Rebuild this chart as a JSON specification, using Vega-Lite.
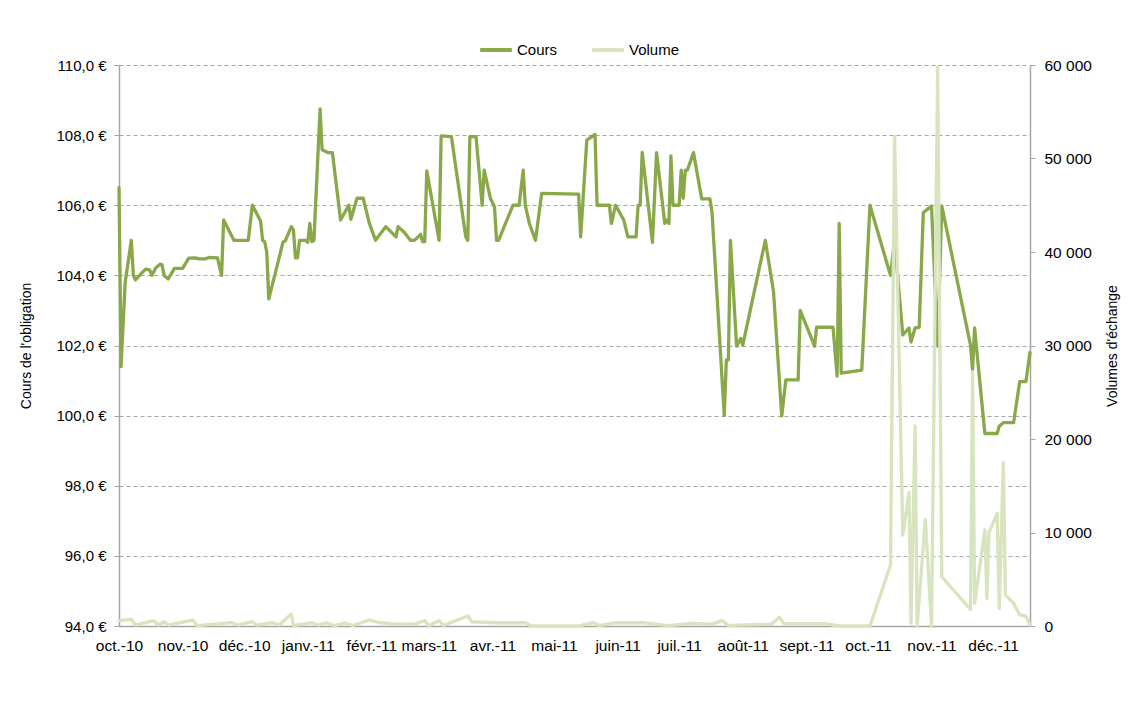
{
  "$schema": "https://vega.github.io/schema/vega-lite/v6.json",
  "width": 911,
  "height": 561,
  "autosize": {"type": "none"},
  "padding": {"left": 119, "top": 65, "right": 97, "bottom": 92},
  "background": "white",
  "config": {
    "font": "Liberation Sans",
    "view": {"stroke": null},
    "axis": {
      "labelFont": "Liberation Sans",
      "titleFont": "Liberation Sans",
      "labelColor": "#000000",
      "titleColor": "#000000",
      "labelFontSize": 15,
      "titleFontSize": 14,
      "titleFontWeight": "normal",
      "domainColor": "#A6A6A6",
      "tickColor": "#A6A6A6",
      "domainWidth": 1.5
    },
    "legend": {"labelFont": "Liberation Sans", "labelColor": "#000000"}
  },
  "datasets": {
    "cours": [
      {"date": "2010-10-01", "cours": 106.5},
      {"date": "2010-10-02", "cours": 101.4},
      {"date": "2010-10-04", "cours": 103.8},
      {"date": "2010-10-07", "cours": 105.0},
      {"date": "2010-10-08", "cours": 104.0},
      {"date": "2010-10-09", "cours": 103.87},
      {"date": "2010-10-11", "cours": 104.0},
      {"date": "2010-10-14", "cours": 104.18},
      {"date": "2010-10-16", "cours": 104.15},
      {"date": "2010-10-17", "cours": 104.0},
      {"date": "2010-10-19", "cours": 104.22},
      {"date": "2010-10-21", "cours": 104.32},
      {"date": "2010-10-22", "cours": 104.3},
      {"date": "2010-10-23", "cours": 104.0},
      {"date": "2010-10-25", "cours": 103.9},
      {"date": "2010-10-28", "cours": 104.2},
      {"date": "2010-11-01", "cours": 104.2},
      {"date": "2010-11-04", "cours": 104.49},
      {"date": "2010-11-07", "cours": 104.5},
      {"date": "2010-11-09", "cours": 104.47},
      {"date": "2010-11-12", "cours": 104.47},
      {"date": "2010-11-14", "cours": 104.51},
      {"date": "2010-11-18", "cours": 104.5},
      {"date": "2010-11-20", "cours": 104.0},
      {"date": "2010-11-21", "cours": 105.58},
      {"date": "2010-11-26", "cours": 105.0},
      {"date": "2010-12-03", "cours": 105.0},
      {"date": "2010-12-05", "cours": 106.0},
      {"date": "2010-12-09", "cours": 105.55},
      {"date": "2010-12-10", "cours": 105.0},
      {"date": "2010-12-11", "cours": 104.96},
      {"date": "2010-12-12", "cours": 104.67},
      {"date": "2010-12-13", "cours": 103.33},
      {"date": "2010-12-18", "cours": 104.49},
      {"date": "2010-12-20", "cours": 104.96},
      {"date": "2010-12-21", "cours": 104.98},
      {"date": "2010-12-24", "cours": 105.39},
      {"date": "2010-12-25", "cours": 105.3},
      {"date": "2010-12-26", "cours": 104.5},
      {"date": "2010-12-27", "cours": 104.5},
      {"date": "2010-12-28", "cours": 105.0},
      {"date": "2010-12-31", "cours": 105.0},
      {"date": "2011-01-01", "cours": 104.94},
      {"date": "2011-01-02", "cours": 105.48},
      {"date": "2011-01-03", "cours": 104.96},
      {"date": "2011-01-04", "cours": 105.0},
      {"date": "2011-01-07", "cours": 108.75},
      {"date": "2011-01-08", "cours": 107.58},
      {"date": "2011-01-11", "cours": 107.5},
      {"date": "2011-01-13", "cours": 107.5},
      {"date": "2011-01-17", "cours": 105.58},
      {"date": "2011-01-21", "cours": 106.0},
      {"date": "2011-01-22", "cours": 105.6},
      {"date": "2011-01-25", "cours": 106.2},
      {"date": "2011-01-28", "cours": 106.2},
      {"date": "2011-01-31", "cours": 105.49},
      {"date": "2011-02-03", "cours": 105.0},
      {"date": "2011-02-08", "cours": 105.39},
      {"date": "2011-02-13", "cours": 105.1},
      {"date": "2011-02-14", "cours": 105.39},
      {"date": "2011-02-17", "cours": 105.23},
      {"date": "2011-02-20", "cours": 105.0},
      {"date": "2011-02-22", "cours": 105.0},
      {"date": "2011-02-25", "cours": 105.17},
      {"date": "2011-02-26", "cours": 104.96},
      {"date": "2011-02-27", "cours": 104.96},
      {"date": "2011-02-28", "cours": 106.98},
      {"date": "2011-03-06", "cours": 105.0},
      {"date": "2011-03-07", "cours": 107.98},
      {"date": "2011-03-12", "cours": 107.96},
      {"date": "2011-03-19", "cours": 105.1},
      {"date": "2011-03-20", "cours": 105.0},
      {"date": "2011-03-21", "cours": 107.96},
      {"date": "2011-03-24", "cours": 107.96},
      {"date": "2011-03-27", "cours": 106.0},
      {"date": "2011-03-28", "cours": 107.0},
      {"date": "2011-03-31", "cours": 106.2},
      {"date": "2011-04-02", "cours": 105.96},
      {"date": "2011-04-03", "cours": 105.0},
      {"date": "2011-04-04", "cours": 105.0},
      {"date": "2011-04-11", "cours": 106.0},
      {"date": "2011-04-14", "cours": 106.0},
      {"date": "2011-04-16", "cours": 107.0},
      {"date": "2011-04-17", "cours": 106.0},
      {"date": "2011-04-19", "cours": 105.48},
      {"date": "2011-04-22", "cours": 105.0},
      {"date": "2011-04-25", "cours": 106.34},
      {"date": "2011-05-13", "cours": 106.32},
      {"date": "2011-05-14", "cours": 105.1},
      {"date": "2011-05-17", "cours": 107.86},
      {"date": "2011-05-21", "cours": 108.02},
      {"date": "2011-05-22", "cours": 106.0},
      {"date": "2011-05-28", "cours": 106.0},
      {"date": "2011-05-29", "cours": 105.48},
      {"date": "2011-05-31", "cours": 106.0},
      {"date": "2011-06-04", "cours": 105.58},
      {"date": "2011-06-06", "cours": 105.1},
      {"date": "2011-06-10", "cours": 105.1},
      {"date": "2011-06-11", "cours": 106.0},
      {"date": "2011-06-12", "cours": 106.0},
      {"date": "2011-06-13", "cours": 107.51},
      {"date": "2011-06-18", "cours": 104.94},
      {"date": "2011-06-20", "cours": 107.5},
      {"date": "2011-06-24", "cours": 105.48},
      {"date": "2011-06-25", "cours": 105.58},
      {"date": "2011-06-26", "cours": 105.48},
      {"date": "2011-06-27", "cours": 107.41},
      {"date": "2011-06-28", "cours": 106.0},
      {"date": "2011-07-01", "cours": 106.0},
      {"date": "2011-07-02", "cours": 107.0},
      {"date": "2011-07-03", "cours": 106.2},
      {"date": "2011-07-04", "cours": 107.0},
      {"date": "2011-07-05", "cours": 107.0},
      {"date": "2011-07-08", "cours": 107.5},
      {"date": "2011-07-12", "cours": 106.18},
      {"date": "2011-07-16", "cours": 106.18},
      {"date": "2011-07-17", "cours": 105.82},
      {"date": "2011-07-23", "cours": 100.0},
      {"date": "2011-07-24", "cours": 101.59},
      {"date": "2011-07-25", "cours": 101.59},
      {"date": "2011-07-26", "cours": 105.0},
      {"date": "2011-07-29", "cours": 101.98},
      {"date": "2011-07-31", "cours": 102.2},
      {"date": "2011-08-01", "cours": 102.01},
      {"date": "2011-08-12", "cours": 105.0},
      {"date": "2011-08-16", "cours": 103.53},
      {"date": "2011-08-20", "cours": 99.99},
      {"date": "2011-08-22", "cours": 101.02},
      {"date": "2011-08-28", "cours": 101.02},
      {"date": "2011-08-29", "cours": 103.0},
      {"date": "2011-09-05", "cours": 101.98},
      {"date": "2011-09-06", "cours": 102.52},
      {"date": "2011-09-14", "cours": 102.52},
      {"date": "2011-09-16", "cours": 101.13},
      {"date": "2011-09-17", "cours": 105.48},
      {"date": "2011-09-18", "cours": 101.21},
      {"date": "2011-09-28", "cours": 101.3},
      {"date": "2011-10-02", "cours": 106.0},
      {"date": "2011-10-12", "cours": 104.0},
      {"date": "2011-10-14", "cours": 105.0},
      {"date": "2011-10-18", "cours": 102.3},
      {"date": "2011-10-21", "cours": 102.5},
      {"date": "2011-10-22", "cours": 102.1},
      {"date": "2011-10-24", "cours": 102.5},
      {"date": "2011-10-26", "cours": 102.52},
      {"date": "2011-10-28", "cours": 105.79},
      {"date": "2011-11-01", "cours": 105.98},
      {"date": "2011-11-04", "cours": 101.98},
      {"date": "2011-11-06", "cours": 105.98},
      {"date": "2011-11-20", "cours": 102.01},
      {"date": "2011-11-21", "cours": 101.3},
      {"date": "2011-11-22", "cours": 102.5},
      {"date": "2011-11-27", "cours": 99.49},
      {"date": "2011-12-03", "cours": 99.49},
      {"date": "2011-12-04", "cours": 99.7},
      {"date": "2011-12-06", "cours": 99.8},
      {"date": "2011-12-11", "cours": 99.8},
      {"date": "2011-12-14", "cours": 100.97},
      {"date": "2011-12-17", "cours": 100.97},
      {"date": "2011-12-19", "cours": 101.8}
    ],
    "volume": [
      {"date": "2010-10-01", "volume": 570},
      {"date": "2010-10-07", "volume": 720},
      {"date": "2010-10-09", "volume": 100},
      {"date": "2010-10-18", "volume": 570},
      {"date": "2010-10-20", "volume": 100},
      {"date": "2010-10-23", "volume": 460},
      {"date": "2010-10-25", "volume": 100},
      {"date": "2010-11-06", "volume": 640},
      {"date": "2010-11-08", "volume": 50},
      {"date": "2010-11-25", "volume": 350},
      {"date": "2010-11-28", "volume": 100},
      {"date": "2010-12-05", "volume": 460},
      {"date": "2010-12-07", "volume": 100},
      {"date": "2010-12-15", "volume": 350},
      {"date": "2010-12-18", "volume": 100},
      {"date": "2010-12-24", "volume": 1280},
      {"date": "2010-12-25", "volume": 50},
      {"date": "2011-01-03", "volume": 350},
      {"date": "2011-01-06", "volume": 100},
      {"date": "2011-01-10", "volume": 350},
      {"date": "2011-01-14", "volume": 50},
      {"date": "2011-01-19", "volume": 300},
      {"date": "2011-01-23", "volume": 50},
      {"date": "2011-01-31", "volume": 640},
      {"date": "2011-02-05", "volume": 350},
      {"date": "2011-02-13", "volume": 200},
      {"date": "2011-02-22", "volume": 200},
      {"date": "2011-02-27", "volume": 570},
      {"date": "2011-03-01", "volume": 50},
      {"date": "2011-03-06", "volume": 570},
      {"date": "2011-03-08", "volume": 50},
      {"date": "2011-03-20", "volume": 1070},
      {"date": "2011-03-22", "volume": 450},
      {"date": "2011-04-03", "volume": 350},
      {"date": "2011-04-17", "volume": 350},
      {"date": "2011-04-20", "volume": 0},
      {"date": "2011-05-13", "volume": 0},
      {"date": "2011-05-20", "volume": 350},
      {"date": "2011-05-23", "volume": 50},
      {"date": "2011-05-31", "volume": 350},
      {"date": "2011-06-13", "volume": 350},
      {"date": "2011-06-26", "volume": 50},
      {"date": "2011-07-07", "volume": 280},
      {"date": "2011-07-17", "volume": 200},
      {"date": "2011-07-22", "volume": 570},
      {"date": "2011-07-25", "volume": 50},
      {"date": "2011-07-30", "volume": 100},
      {"date": "2011-08-15", "volume": 200},
      {"date": "2011-08-19", "volume": 930},
      {"date": "2011-08-21", "volume": 250},
      {"date": "2011-08-29", "volume": 250},
      {"date": "2011-09-10", "volume": 250},
      {"date": "2011-09-17", "volume": 0},
      {"date": "2011-10-02", "volume": 0},
      {"date": "2011-10-12", "volume": 6520},
      {"date": "2011-10-14", "volume": 52400},
      {"date": "2011-10-18", "volume": 9730},
      {"date": "2011-10-21", "volume": 14260},
      {"date": "2011-10-22", "volume": 300},
      {"date": "2011-10-24", "volume": 21400},
      {"date": "2011-10-25", "volume": 0},
      {"date": "2011-10-29", "volume": 11400},
      {"date": "2011-11-01", "volume": 0},
      {"date": "2011-11-04", "volume": 59800},
      {"date": "2011-11-06", "volume": 5270},
      {"date": "2011-11-20", "volume": 1780},
      {"date": "2011-11-21", "volume": 27200},
      {"date": "2011-11-22", "volume": 2430},
      {"date": "2011-11-27", "volume": 10270},
      {"date": "2011-11-28", "volume": 2960},
      {"date": "2011-11-29", "volume": 9980},
      {"date": "2011-12-03", "volume": 12050},
      {"date": "2011-12-04", "volume": 1890},
      {"date": "2011-12-06", "volume": 17470},
      {"date": "2011-12-07", "volume": 3320},
      {"date": "2011-12-11", "volume": 2430},
      {"date": "2011-12-14", "volume": 1180},
      {"date": "2011-12-17", "volume": 1070},
      {"date": "2011-12-19", "volume": 110}
    ]
  },
  "layer": [
    {
      "data": {"name": "cours"},
      "mark": {"type": "line", "strokeWidth": 3.3, "strokeJoin": "round", "strokeCap": "round"},
      "encoding": {
        "x": {
          "field": "date",
          "type": "temporal",
          "scale": {
            "type": "utc",
            "domain": [
              {"year": 2010, "month": 10, "date": 1, "utc": true},
              {"year": 2011, "month": 12, "date": 19, "utc": true}
            ]
          },
          "axis": {
            "title": null,
            "values": [
              {"year": 2010, "month": 10, "date": 1, "utc": true},
              {"year": 2010, "month": 11, "date": 1, "utc": true},
              {"year": 2010, "month": 12, "date": 1, "utc": true},
              {"year": 2011, "month": 1, "date": 1, "utc": true},
              {"year": 2011, "month": 2, "date": 1, "utc": true},
              {"year": 2011, "month": 3, "date": 1, "utc": true},
              {"year": 2011, "month": 4, "date": 1, "utc": true},
              {"year": 2011, "month": 5, "date": 1, "utc": true},
              {"year": 2011, "month": 6, "date": 1, "utc": true},
              {"year": 2011, "month": 7, "date": 1, "utc": true},
              {"year": 2011, "month": 8, "date": 1, "utc": true},
              {"year": 2011, "month": 9, "date": 1, "utc": true},
              {"year": 2011, "month": 10, "date": 1, "utc": true},
              {"year": 2011, "month": 11, "date": 1, "utc": true},
              {"year": 2011, "month": 12, "date": 1, "utc": true}
            ],
            "labelExpr": "['janv.','févr.','mars','avr.','mai','juin','juil.','août','sept.','oct.','nov.','déc.'][utcmonth(datum.value)] + '-' + utcFormat(datum.value, '%y')",
            "ticks": false,
            "grid": false,
            "labelPadding": 12,
            "labelFontSize": 15.5,
            "labelFlush": false,
            "labelOverlap": false
          }
        },
        "y": {
          "field": "cours",
          "type": "quantitative",
          "scale": {"domain": [94, 110], "nice": false, "zero": false},
          "axis": {
            "title": "Cours de l'obligation",
            "values": [94, 96, 98, 100, 102, 104, 106, 108, 110],
            "labelExpr": "replace(format(datum.value, '.1f'), '.', ',') + ' €'",
            "grid": true,
            "gridDash": [4, 3],
            "gridColor": "#A6A6A6",
            "gridWidth": 1,
            "tickSize": 5,
            "labelPadding": 8,
            "titlePadding": 22
          }
        },
        "color": {
          "datum": "Cours",
          "scale": {"domain": ["Cours", "Volume"], "range": ["#88A84A", "#D7E4BD"]},
          "legend": {
            "orient": "none",
            "legendX": 359,
            "legendY": -33,
            "direction": "horizontal",
            "title": null,
            "symbolType": "stroke",
            "symbolSize": 1000,
            "symbolStrokeWidth": 4,
            "labelFontSize": 15,
            "labelOffset": 3,
            "columnPadding": 26
          }
        }
      }
    },
    {
      "data": {"name": "volume"},
      "mark": {"type": "line", "strokeWidth": 3.3, "strokeJoin": "round", "strokeCap": "round"},
      "encoding": {
        "x": {"field": "date", "type": "temporal"},
        "y": {
          "field": "volume",
          "type": "quantitative",
          "scale": {"domain": [0, 60000], "nice": false},
          "axis": {
            "orient": "right",
            "title": "Volumes d'échange",
            "titleAngle": 270,
            "titleBaseline": "top",
            "values": [0, 10000, 20000, 30000, 40000, 50000, 60000],
            "labelExpr": "replace(format(datum.value, ','), ',', ' ')",
            "grid": false,
            "tickSize": 5,
            "labelFontSize": 15.5,
            "labelPadding": 9,
            "titlePadding": 14
          }
        },
        "color": {"datum": "Volume"}
      }
    }
  ],
  "resolve": {"scale": {"y": "independent"}}
}
